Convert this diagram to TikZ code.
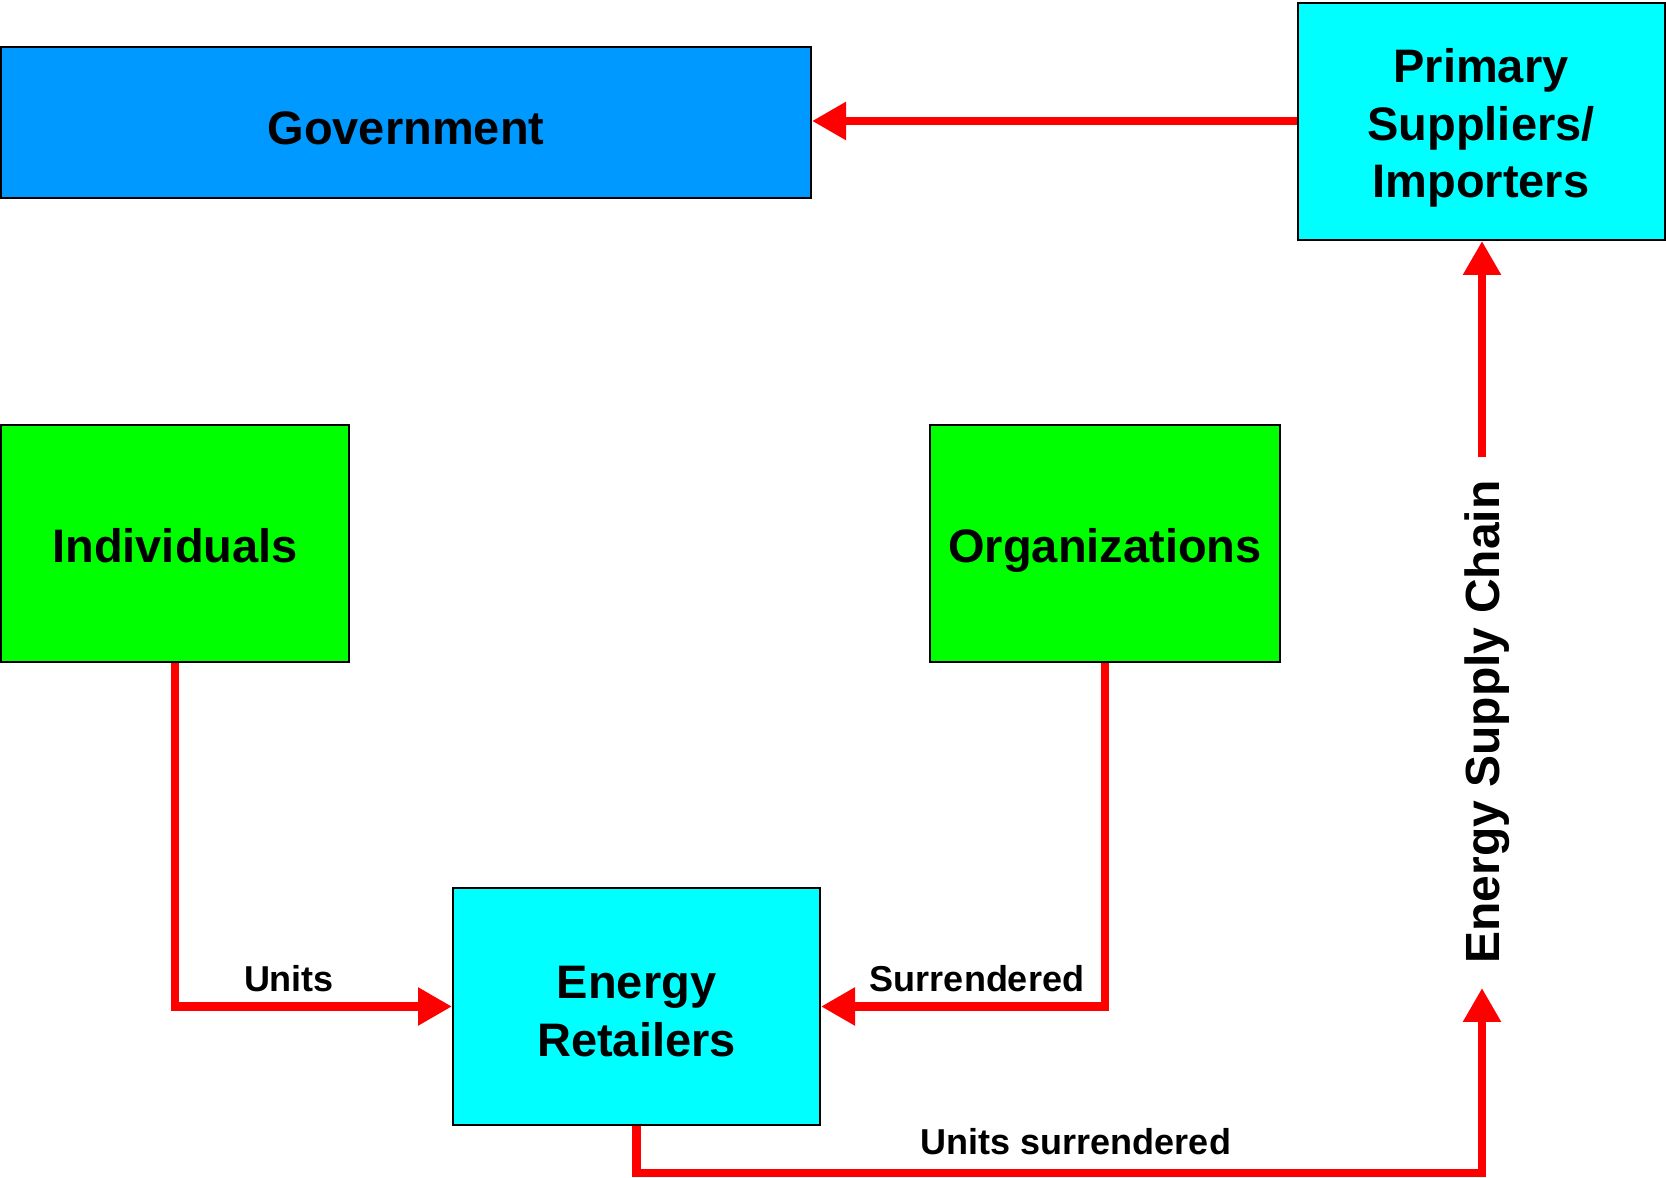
\documentclass[tikz,border=0pt]{standalone}
\usepackage{fontspec}
\setmainfont{Liberation Sans}
\usetikzlibrary{arrows.meta}
\definecolor{govblue}{HTML}{0099FF}
\definecolor{aqua}{HTML}{00FFFF}
\definecolor{lime}{HTML}{00FF00}
\definecolor{flowred}{HTML}{FF0000}
\newcommand{\topstrut}[1]{\rule{0pt}{#1}}
\begin{document}
\begin{tikzpicture}[x=1pt,y=1pt,
  box/.style={draw=black,line width=2pt,inner sep=0pt,align=center,
    font=\fontsize{47}{57.4}\selectfont\bfseries},
  flow/.style={draw=flowred,line width=8.5pt,
    -{Triangle[length=34pt,width=36pt]}},
  lbl/.style={font=\fontsize{36}{40}\selectfont\bfseries,inner sep=0pt}]
\useasboundingbox (0,0) rectangle (1666,1178);
\node[box,fill=govblue,minimum width=810pt,minimum height=151pt] (gov) at (406,1055.5) {\topstrut{44pt}Government};
\node[box,fill=aqua,minimum width=367pt,minimum height=237pt] (prim) at (1481,1056.5) {\topstrut{47pt}Primary\\Suppliers/\\Importers};
\node[box,fill=lime,minimum width=348pt,minimum height=237pt] (ind) at (175,634.5) {\topstrut{38.5pt}Individuals};
\node[box,fill=lime,minimum width=350pt,minimum height=237pt] (org) at (1105,634.5) {\topstrut{48pt}Organizations};
\node[box,fill=aqua,minimum width=367pt,minimum height=237pt] (ret) at (636.5,171.5) {\topstrut{42.5pt}Energy\\Retailers};
\coordinate (tipA) at (1482,190);
\coordinate (startB) at (1482,721);
\node[inner sep=0pt,font=\fontsize{48}{50}\selectfont\bfseries,rotate=90] (esc) at (1487,456) {Energy Supply Chain};
\draw[flow] (prim.west |- 0,1057) -- (gov.east |- 0,1057);
\draw[flow] (ind.south) |- (ret.west);
\draw[flow] (org.south) |- (ret.east);
\draw[flow] (ret.south) -- (636.5,5) -| (tipA);
\draw[flow] (startB) -- (prim.south -| startB);
\node[lbl] (u) at (289,199) {Units};
\node[lbl] (s) at (977,199) {Surrendered};
\node[lbl] (us) at (1076,36) {Units surrendered};
\end{tikzpicture}
\end{document}
